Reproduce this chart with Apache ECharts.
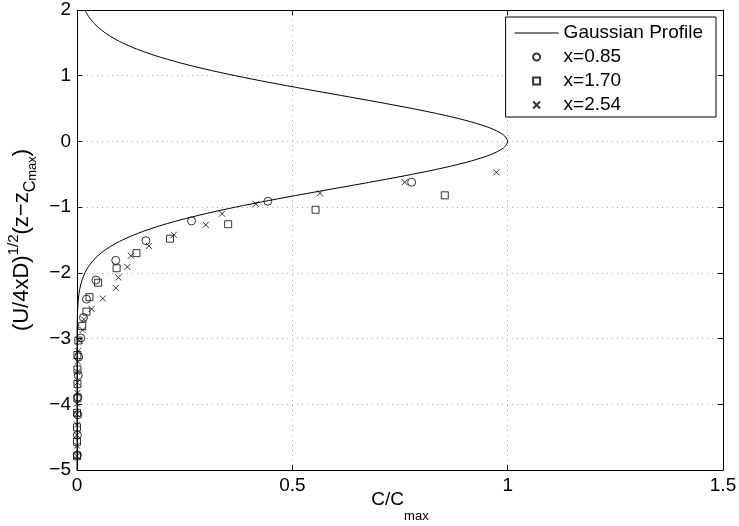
<!DOCTYPE html>
<html><head><meta charset="utf-8">
<script src="https://cdn.jsdelivr.net/npm/echarts@6/dist/echarts.min.js"></script>
<style>html,body{margin:0;padding:0;background:#fff}#c{width:739px;height:526px}</style>
</head><body><div id="c"></div>
<script>
// Gaussian profile (y, C/Cmax)
var gaussY = [-5.0,-4.0,-3.5,-3.0,-2.9,-2.8,-2.7,-2.6,-2.5,-2.4,-2.3,-2.2,-2.1,-2.0,-1.9,-1.8,-1.7,-1.6,-1.5,-1.4,-1.3,-1.2,-1.1,-1.0,-0.9,-0.8,-0.7,-0.6,-0.5,-0.4,-0.3,-0.2,-0.1,0.0,0.1,0.2,0.3,0.4,0.5,0.6,0.7,0.8,0.9,1.0,1.1,1.2,1.3,1.4,1.5,1.6,1.7,1.8,1.9,2.0];
var gaussC = [0.0,0.0,0.0,0.0001,0.0002,0.0004,0.0007,0.0012,0.0019,0.0032,0.0050,0.0079,0.0122,0.0183,0.0271,0.0392,0.0556,0.0773,0.1054,0.1409,0.1845,0.2369,0.2982,0.3679,0.4449,0.5273,0.6126,0.6977,0.7788,0.8521,0.9139,0.9608,0.9900,1.0,0.9900,0.9608,0.9139,0.8521,0.7788,0.6977,0.6126,0.5273,0.4449,0.3679,0.2982,0.2369,0.1845,0.1409,0.1054,0.0773,0.0556,0.0392,0.0271,0.0183];

// x=0.85 (circles)
var s1C = [0.777,0.443,0.266,0.160,0.090,0.044,0.022,0.015,0.009,0.004,0.003,0.002,0.002,0.001,0.001];
var s1Y = [-0.62,-0.91,-1.21,-1.51,-1.81,-2.11,-2.40,-2.68,-2.99,-3.28,-3.56,-3.89,-4.16,-4.47,-4.77];
// x=1.70 (squares)
var s2C = [0.854,0.554,0.351,0.216,0.138,0.092,0.049,0.029,0.022,0.012,0.003,0.001,0.001,0.001,0.001,0.0,0.0,0.0,0.0];
var s2Y = [-0.82,-1.04,-1.26,-1.48,-1.70,-1.93,-2.15,-2.37,-2.59,-2.81,-3.03,-3.25,-3.47,-3.69,-3.91,-4.13,-4.35,-4.57,-4.79];
// x=2.54 (crosses)
var s3C = [0.974,0.761,0.564,0.415,0.337,0.299,0.225,0.167,0.125,0.117,0.096,0.090,0.060,0.034,0.016,0.013,0.006,0.003,0.002,0.001,0.001,0.001,0.0,0.0,0.0,0.0,0.0,0.0];
var s3Y = [-0.47,-0.62,-0.79,-0.95,-1.10,-1.27,-1.42,-1.59,-1.74,-1.91,-2.07,-2.23,-2.39,-2.55,-2.71,-2.87,-3.03,-3.19,-3.35,-3.51,-3.67,-3.83,-3.99,-4.15,-4.31,-4.47,-4.63,-4.79];

var seriesNames = ['Gaussian Profile','x=0.85','x=1.70','x=2.54'];
var xTicks = {min:0, max:1.5, interval:0.5};
var yTicks = {min:-5, max:2, interval:1};

function zip(a,b){return a.map(function(v,i){return [v,b[i]];});}
var FONT = '"Liberation Sans", Arial, sans-serif';
function fmt(v){var s = String(v); return s.replace('-', '\u2212');}

var chart = echarts.init(document.getElementById('c'), null, {renderer:'canvas'});
var gridLine = {show:true, lineStyle:{color:'#aaaaaa', type:[1,4], width:1}};
var axisLineS = {show:true, onZero:false, lineStyle:{color:'#000', width:1}};
var tickS = {show:true, inside:true, length:5, lineStyle:{color:'#000', width:1}};
var markerStyle = {color:'rgba(0,0,0,0)', borderColor:'#000', borderWidth:1};
var CROSS = 'path://M0,0L10,10M10,0L0,10';
var SQUARE = 'path://M0,0L10,0L10,10L0,10Z';
var LINEICON = 'path://M0,0L44,0L44,1L0,1Z';

chart.setOption({
  animation:false,
  backgroundColor:'#fff',
  grid:{left:77, right:16, top:10, bottom:56, containLabel:false, outerBoundsMode:'none'},
  legend:{
    orient:'vertical', right:23, top:17,
    data:[
      {name:seriesNames[0], icon:LINEICON, itemStyle:{color:'#000', borderWidth:0}},
      {name:seriesNames[1], icon:'circle'},
      {name:seriesNames[2], icon:SQUARE},
      {name:seriesNames[3], icon:CROSS}
    ],
    symbolKeepAspect:true,
    backgroundColor:'#fff', borderColor:'#000', borderWidth:1,
    padding:[6,13,2,9], itemWidth:44, itemHeight:7, itemGap:4,
    textStyle:{fontFamily:FONT, fontSize:19, lineHeight:20, color:'#000'}
  },
  xAxis:[{
    type:'value', min:xTicks.min, max:xTicks.max, interval:xTicks.interval,
    position:'bottom', axisLine:axisLineS, axisTick:tickS, splitLine:gridLine,
    axisLabel:{fontFamily:FONT, fontSize:19, color:'#000', margin:6, formatter:fmt},
    name:'{n|C/C}{sub|max}', nameLocation:'middle', nameGap:20, nameMoveOverlap:false,
    nameTextStyle:{fontFamily:FONT, color:'#000', rich:{
      n:{fontFamily:FONT, fontSize:19, color:'#000', lineHeight:33, verticalAlign:'top'},
      sub:{fontFamily:FONT, fontSize:13, color:'#000', lineHeight:33, verticalAlign:'bottom'}
    }}
  },{
    type:'value', min:xTicks.min, max:xTicks.max, interval:xTicks.interval,
    position:'top', axisLine:axisLineS, axisTick:tickS, splitLine:{show:false}, axisLabel:{show:false}
  }],
  yAxis:[{
    type:'value', min:yTicks.min, max:yTicks.max, interval:yTicks.interval,
    position:'left', axisLine:axisLineS, axisTick:tickS, splitLine:gridLine,
    axisLabel:{fontFamily:FONT, fontSize:19, color:'#000', margin:6, formatter:fmt},
    name:'{n|(U/4xD)}{sup|1/2}{n|(z\u2212z}{sub|C}{sub2|max}{n|)}', nameLocation:'middle', nameGap:30, nameRotate:90,
    nameTextStyle:{fontFamily:FONT, color:'#000', rich:{
      n:{fontFamily:FONT, fontSize:22, color:'#000', lineHeight:32, verticalAlign:'middle'},
      sup:{fontFamily:FONT, fontSize:15, color:'#000', lineHeight:32, verticalAlign:'top'},
      sub:{fontFamily:FONT, fontSize:16, color:'#000', lineHeight:32, verticalAlign:'bottom'},
      sub2:{fontFamily:FONT, fontSize:13, color:'#000', lineHeight:32, verticalAlign:'bottom'}
    }}
  },{
    type:'value', min:yTicks.min, max:yTicks.max, interval:yTicks.interval,
    position:'right', axisLine:axisLineS, axisTick:tickS, splitLine:{show:false}, axisLabel:{show:false}
  }],
  series:[
    {name:seriesNames[0], type:'line', data:zip(gaussC, gaussY), symbol:'none', smooth:0.3,
     lineStyle:{color:'#000', width:1}, itemStyle:{color:'#000'}, z:3},
    {name:seriesNames[1], type:'scatter', data:zip(s1C, s1Y), symbol:'circle', symbolSize:8,
     itemStyle:markerStyle, z:4},
    {name:seriesNames[2], type:'scatter', data:zip(s2C, s2Y), symbol:SQUARE, symbolSize:7,
     itemStyle:markerStyle, z:4},
    {name:seriesNames[3], type:'scatter', data:zip(s3C, s3Y), symbol:CROSS, symbolSize:6,
     itemStyle:markerStyle, z:4}
  ]
});
</script>
</body></html>
